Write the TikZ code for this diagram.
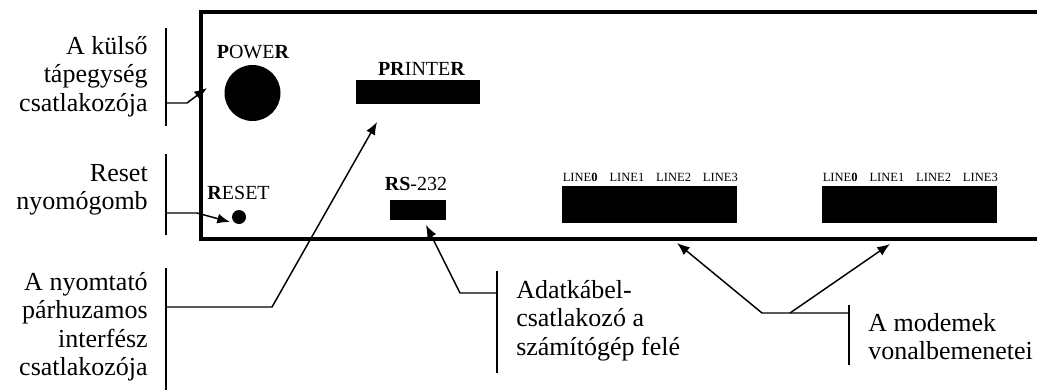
\documentclass[tikz,border=0pt]{standalone}
\usepackage{fontspec}
\setmainfont{Liberation Serif}
\usetikzlibrary{arrows.meta}
\tikzset{
  big/.style={font=\fontsize{19.5}{21.4}\selectfont, inner sep=0pt},
  small/.style={font=\fontsize{15}{17}\selectfont, inner sep=0pt, anchor=base},
  tiny/.style={font=\fontsize{9.4}{11}\selectfont, inner sep=0pt, anchor=base west},
  blk/.style={fill=black, draw=none, inner sep=0pt},
  panel/.style={line width=2.3pt},
  bar/.style={line width=1.4pt},
  conn/.style={line width=1.1pt},
  arr/.style={conn, -{Latex[length=9.5pt,width=7.5pt]}},
}
\begin{document}
\begin{tikzpicture}[x=0.75pt,y=-0.75pt]
\useasboundingbox (0,0) rectangle (1037,389);
% panel
\draw[panel] (1040,12) -- (201,12) -- (201,239) -- (1040,239);
% components
\node[blk, circle, minimum size=42pt] (power) at (252.5,93) {};
\node[blk, circle, minimum size=10.5pt] (reset) at (239,217) {};
\node[blk, rectangle, minimum width=93pt, minimum height=18pt] (printer) at (418,92) {};
\node[blk, rectangle, minimum width=42pt, minimum height=15pt] (rs) at (418,210) {};
\node[blk, rectangle, minimum width=131.25pt, minimum height=27.75pt] (lineA) at (649.5,204.5) {};
\node[blk, rectangle, minimum width=131.25pt, minimum height=27.75pt] (lineB) at (909.5,204.5) {};
% component labels
\node[small] (powerlbl) at (253,58) {\textbf{P}OWE\textbf{R}};
\node[small] (printerlbl) at (421.5,75) {\textbf{PR}INTE\textbf{R}};
\node[small] (rslbl) at (416,190) {\textbf{RS}-232};
\node[small] (resetlbl) at (238.5,199) {\textbf{R}ESET};
\node[tiny] (lineAlbl) at (562.5,181) {\makebox[131.25pt][s]{LINE\textbf{0}\hfill LINE1\hfill LINE2\hfill LINE3}};
\node[tiny] (lineBlbl) at (822.5,181) {\makebox[131.25pt][s]{LINE\textbf{0}\hfill LINE1\hfill LINE2\hfill LINE3}};
% explanation texts
\node[big, align=right, anchor=north east] (t1) at (148,34) {\strut A külső\\\strut tápegység\\\strut csatlakozója};
\node[big, align=right, anchor=north east] (t2) at (148,161) {\strut Reset\\\strut nyomógomb};
\node[big, align=right, anchor=north east] (t3) at (148,270) {\strut A nyomtató\\\strut párhuzamos\\\strut interfész\\\strut csatlakozója};
\node[big, align=left, anchor=north west] (t4) at (516,278) {\strut Adatkábel-\\\strut csatlakozó a\\\strut számítógép felé};
\node[big, align=left, anchor=north west] (t5) at (868,311) {\strut A modemek\\\strut vonalbemenetei};
% bars
\coordinate (b1t) at (166,28);  \coordinate (b1b) at (166,126);
\coordinate (b2t) at (166,154); \coordinate (b2b) at (166,235);
\coordinate (b3t) at (166,268); \coordinate (b3b) at (166,392);
\coordinate (b4t) at (497,271); \coordinate (b4b) at (497,373);
\coordinate (b5t) at (849,305); \coordinate (b5b) at (849,365);
\draw[bar] (b1t) -- (b1b);
\draw[bar] (b2t) -- (b2b);
\draw[bar] (b3t) -- (b3b);
\draw[bar] (b4t) -- (b4b);
\draw[bar] (b5t) -- (b5b);
% connector points
\coordinate (c1) at (166,103); \coordinate (c1k) at (187,103); \coordinate (a1) at (207,88);
\coordinate (c2) at (166,213); \coordinate (c2k) at (197,213); \coordinate (a2) at (230,222);
\coordinate (c3) at (166,307); \coordinate (c3k) at (272,307); \coordinate (a3) at (377,122);
\coordinate (c4) at (497,293); \coordinate (c4k) at (460,293); \coordinate (a4) at (426,225);
\coordinate (c5) at (849,313); \coordinate (c5k) at (762,313); \coordinate (c5m) at (790,313);
\coordinate (a5) at (677,243); \coordinate (a6) at (890,244);
\draw[arr] (c1) -- (c1k) -- (a1);
\draw[arr] (c2) -- (c2k) -- (a2);
\draw[arr] (c3) -- (c3k) -- (a3);
\draw[arr] (c4) -- (c4k) -- (a4);
\draw[arr] (c5) -- (c5k) -- (a5);
\draw[arr] (c5m) -- (a6);
\end{tikzpicture}
\end{document}
